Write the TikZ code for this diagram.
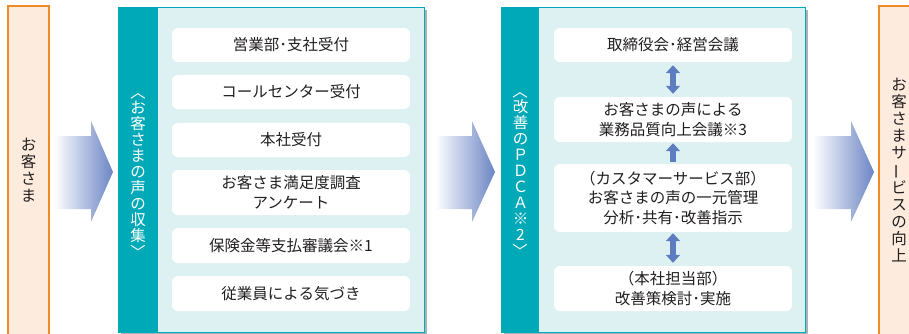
\documentclass[tikz,border=0pt]{standalone}
\usepackage{fontspec}
\setmainfont{Noto Sans CJK JP}
\usepackage{graphicx}
\usetikzlibrary{arrows.meta}
\definecolor{teal1}{HTML}{00A9B7}
\definecolor{panelbg}{HTML}{DDF0F2}
\definecolor{orangeb}{HTML}{F08A24}
\definecolor{orangebg}{HTML}{FDEBDD}
\definecolor{arrowblue}{HTML}{6C85C4}
\definecolor{darrow}{HTML}{5E7CC0}
\definecolor{txt}{HTML}{231F20}
\definecolor{shadowg}{HTML}{A9B2B5}
\newcommand{\vopen}{\rotatebox[origin=c]{-90}{〈}}
\newcommand{\vclose}{\rotatebox[origin=c]{-90}{〉}}
\newcommand{\vbar}{\rotatebox[origin=c]{90}{ー}}
\newcommand{\nd}{･}
\begin{document}
\begin{tikzpicture}[x=1pt,y=-1pt,
  item/.style={fill=white, rounded corners=6pt, text=txt, align=center,
    font=\fontsize{15.5}{19.5}\selectfont, inner sep=0pt, minimum width=238pt},
  sidebox/.style={draw=orangeb, line width=1.2pt, fill=orangebg},
  panel/.style={draw=teal1, line width=0.8pt, fill=panelbg},
  pshadow/.style={fill=shadowg},
  strip/.style={fill=teal1},
  vtext/.style={align=center, font=\fontsize{15.5}{16}\selectfont, inner sep=0pt},
  stext/.style={align=center, font=\fontsize{15.5}{17}\selectfont, inner sep=0pt, text=txt},
  bigarrow/.style={left color=white, right color=arrowblue, draw=none},
  dbl/.style={draw=darrow, line width=6pt, {Triangle[width=14pt,length=8pt]}-{Triangle[width=14pt,length=8pt]}},
  sgl/.style={draw=darrow, line width=6pt, -{Triangle[width=14pt,length=8pt]}},
]
\useasboundingbox (0,0) rectangle (909,333);

% left customer box
\path[sidebox] (8,6) rectangle (49,340);
\node[stext] (cust) at (28.5,170) {お\\客\\さ\\ま};

% right result box
\path[sidebox] (879,6) rectangle (915,340);
\node[stext] (result) at (899,170) {お\\客\\さ\\ま\\サ\\\vbar\\ビ\\ス\\の\\向\\上};

% big arrows
\shade[bigarrow] (54,136) -- (91,136) -- (91,121) -- (113,172) -- (91,222) -- (91,209) -- (54,209) -- cycle;
\shade[bigarrow] (435,136) -- (472,136) -- (472,121) -- (495,172) -- (472,222) -- (472,209) -- (435,209) -- cycle;
\shade[bigarrow] (813,136) -- (851,136) -- (851,121) -- (874,172) -- (851,222) -- (851,209) -- (813,209) -- cycle;

% panel 1
\path[pshadow] (121,10) rectangle (427,336);
\path[panel] (118,7) rectangle (424,332);
\path[strip] (118,7) rectangle (158,332);
\node[vtext, text=white] (p1label) at (138,172) {\vopen\\お\\客\\さ\\ま\\の\\声\\の\\収\\集\\\vclose};

\node[item, minimum height=34pt] (a1) at (291,45) {営業部\nd 支社受付};
\node[item, minimum height=34pt] (a2) at (291,92) {コールセンター受付};
\node[item, minimum height=34pt] (a3) at (291,140) {本社受付};
\node[item, minimum height=45pt] (a4) at (291,192.5) {お客さま満足度調査\\アンケート};
\node[item, minimum height=35pt] (a5) at (291,245.5) {保険金等支払審議会※1};
\node[item, minimum height=35pt] (a6) at (291,293.5) {従業員による気づき};

% panel 2
\path[pshadow] (504,10) rectangle (808,336);
\path[panel] (501,7) rectangle (805,332);
\path[strip] (501,7) rectangle (539,332);
\node[vtext, text=white] (p2label) at (520.5,171) {\vopen\\改\\善\\の\\Ｐ\\Ｄ\\Ｃ\\Ａ\\※\\2\\\vclose};

\node[item, minimum height=34pt] (b1) at (673,45) {取締役会\nd 経営会議};
\node[item, minimum height=45pt] (b2) at (673,119.5) {お客さまの声による\\業務品質向上会議※3};
\node[item, minimum height=68pt] (b3) at (673,198) {（カスタマーサービス部）\\お客さまの声の一元管理\\分析\nd 共有\nd 改善指示};
\node[item, minimum height=45pt] (b4) at (673,288.5) {（本社担当部）\\改善策検討\nd 実施};

\draw[dbl, shorten <=3pt, shorten >=3pt] (b1.south) -- (b2.north);
\draw[sgl, shorten <=2pt, shorten >=1pt] (b3.north) -- (b2.south);
\draw[dbl, shorten <=1pt, shorten >=3pt] (b3.south) -- (b4.north);
\end{tikzpicture}
\end{document}
